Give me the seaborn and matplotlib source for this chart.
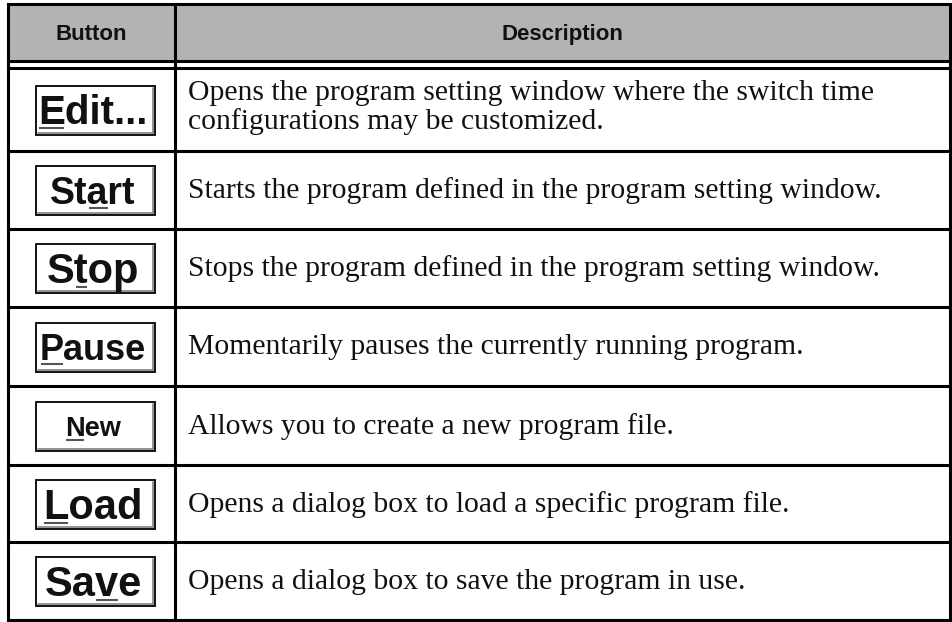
import matplotlib
matplotlib.use("Agg")
import matplotlib.pyplot as plt
import seaborn as sns
from matplotlib.patches import Rectangle

# ---- data ----
headers = ["Button", "Description"]
buttons = ["Edit...", "Start", "Stop", "Pause", "New", "Load", "Save"]
mnemonic_index = [0, 2, 1, 0, 0, 0, 2]
descriptions = [
    ["Opens the program setting window where the switch time",
     "configurations may be customized."],
    ["Starts the program defined in the program setting window."],
    ["Stops the program defined in the program setting window."],
    ["Momentarily pauses the currently running program."],
    ["Allows you to create a new program file."],
    ["Opens a dialog box to load a specific program file."],
    ["Opens a dialog box to save the program in use."],
]

# ---- style / layout (pixels) ----
W, H = 952, 622
button_font_sizes = [29, 27, 30, 26, 19.5, 30, 30]
row_heights = [83, 78, 78, 79, 79, 77, 78]
x_left, x_div, x_right = 7.5, 174.5, 949.5
y_top, y_head, y_head2 = 3.5, 60.5, 67.5
header_gray = "#b3b3b3"
line_w = 2.2
text_color = "#111111"
desc_size = 21.3

sns.set_theme(style="white", rc={"axes.facecolor": "white", "figure.facecolor": "white"})
plt.rcParams["font.family"] = ["Liberation Serif", "DejaVu Serif"]

fig = plt.figure(figsize=(W / 100, H / 100), dpi=100)
ax = fig.add_axes([0, 0, 1, 1])
ax.set_xlim(0, W)
ax.set_ylim(H, 0)
ax.axis("off")

# header background
ax.add_patch(Rectangle((x_left, y_top), x_right - x_left, y_head - y_top,
                       facecolor=header_gray, edgecolor="none", zorder=0))

# row boundaries
bounds = [y_head2]
for h in row_heights:
    bounds.append(bounds[-1] + h)
y_bottom = bounds[-1]

kw = dict(color="black", lw=line_w, solid_capstyle="projecting", zorder=3)
ax.plot([x_left, x_right], [y_top, y_top], **kw)
ax.plot([x_left, x_right], [y_head, y_head], **kw)
for b in bounds:
    ax.plot([x_left, x_right], [b, b], **kw)
ax.plot([x_left, x_left], [y_top, y_bottom], **kw)
ax.plot([x_right, x_right], [y_top, y_bottom], **kw)
ax.plot([x_div, x_div], [y_top, y_bottom], **kw)

# headers
col1_c = (x_left + x_div) / 2
col2_c = (x_div + x_right) / 2
for txt, xc in zip(headers, [col1_c, col2_c]):
    ax.text(xc, 40, txt, ha="center", va="baseline", fontsize=16, fontweight="bold",
            family=["Liberation Sans", "DejaVu Sans"], color=text_color)

fig.canvas.draw()
renderer = fig.canvas.get_renderer()


def text_width(s, size):
    t = ax.text(0, 0, s, fontsize=size, fontweight="bold",
                family=["Liberation Sans", "DejaVu Sans"])
    bb = t.get_window_extent(renderer=renderer)
    t.remove()
    return bb.width


btn_cx = 95.5
btn_w, btn_h = 119, 49
text_cx = 93

for i, (label, mi, desc) in enumerate(zip(buttons, mnemonic_index, descriptions)):
    top, bot = bounds[i], bounds[i + 1]
    cy = (top + bot) / 2 + 1
    # button box
    bx, by = btn_cx - btn_w / 2, cy - btn_h / 2
    ax.add_patch(Rectangle((bx, by), btn_w, btn_h, facecolor="white",
                           edgecolor="black", lw=1.3, zorder=2))
    ax.plot([bx + btn_w - 2, bx + btn_w - 2], [by + 2, by + btn_h - 2],
            color="#808080", lw=1.2, zorder=3)
    ax.plot([bx + 2, bx + btn_w - 2], [by + btn_h - 2, by + btn_h - 2],
            color="#808080", lw=1.2, zorder=3)
    size = button_font_sizes[i]
    cap = size * 100 / 72 * 0.716
    baseline = cy + cap / 2
    full_w = text_width(label, size)
    left_px = text_cx - full_w / 2
    ax.text(left_px, baseline, label, ha="left", va="baseline", fontsize=size,
            fontweight="bold", family=["Liberation Sans", "DejaVu Sans"],
            color=text_color, zorder=4)
    pre = text_width(label[:mi], size) if mi > 0 else 0.0
    upto = text_width(label[:mi + 1], size)
    ax.plot([left_px + pre + 1, left_px + upto - 1], [baseline + 4, baseline + 4],
            color="#555555", lw=1.5, zorder=4, solid_capstyle="butt")
    # description
    n = len(desc)
    dcy = (top + bot) / 2
    for j, line in enumerate(desc):
        yb = dcy + 8.5 + (j - (n - 1) / 2) * 29 - (3 if n > 1 else 0)
        ax.text(188, yb, line, ha="left", va="baseline", fontsize=desc_size,
                color=text_color, zorder=4)

fig.savefig("out.png", dpi=100)
